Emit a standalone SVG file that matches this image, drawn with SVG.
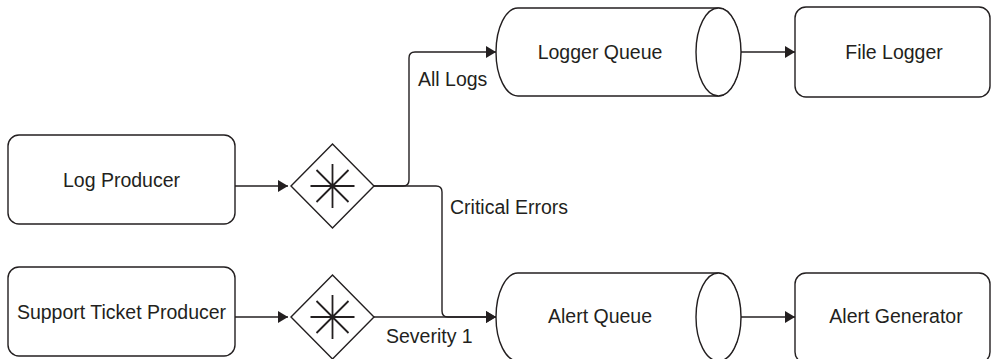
<svg xmlns="http://www.w3.org/2000/svg" width="992" height="359" viewBox="0 0 992 359">
<style>
.box{fill:#fff;stroke:#231f20;stroke-width:1.4}
.ln{fill:none;stroke:#231f20;stroke-width:1.4}
.t{font-family:"Liberation Sans",Arial,sans-serif;font-size:19.5px;fill:#231f20}
.c{text-anchor:middle}
</style>
<defs>
<marker id="arr" markerUnits="userSpaceOnUse" markerWidth="11" markerHeight="12" refX="10" refY="6" orient="auto">
<path d="M0,0 L10,6 L0,12 z" fill="#231f20"/>
</marker>
<g id="star">
<path d="M-22,0 H22 M0,-22 V22 M-16,-16 L16,16 M-16,16 L16,-16" stroke="#231f20" stroke-width="1.8" fill="none"/>
</g>
</defs>
<rect width="992" height="359" fill="#fff"/>
<g id="connectors">
<path class="ln" d="M235,186 H288" marker-end="url(#arr)"/>
<path class="ln" d="M235,317 H288" marker-end="url(#arr)"/>
<path class="ln" d="M374,186 H403 Q409,186 409,180 V58 Q409,52 415,52 H496" marker-end="url(#arr)"/>
<path class="ln" d="M374,186 H436 Q442,186 442,192 V311 Q442,317 448,317 H496" marker-end="url(#arr)"/>
<path class="ln" d="M374,317 H496" marker-end="url(#arr)"/>
<path class="ln" d="M741,52 H795" marker-end="url(#arr)"/>
<path class="ln" d="M741,317 H795" marker-end="url(#arr)"/>
<text class="t" x="418" y="86">All Logs</text>
<text class="t" x="450" y="214">Critical Errors</text>
<text class="t" x="386" y="343">Severity 1</text>
</g>
<g id="log-producer">
<rect class="box" x="8" y="135" width="227" height="89" rx="11"/>
<text class="t c" x="121.5" y="187">Log Producer</text>
</g>
<g id="support-ticket-producer">
<rect class="box" x="8" y="267" width="227" height="89" rx="11"/>
<text class="t c" x="121.5" y="319">Support Ticket Producer</text>
</g>
<g id="filter-1">
<path class="box" d="M291,186 L332.5,144 L374,186 L332.5,228 z"/>
<use href="#star" x="332.5" y="186"/>
</g>
<g id="filter-2">
<path class="box" d="M291,317 L332.5,275 L374,317 L332.5,359 z"/>
<use href="#star" x="332.5" y="317"/>
</g>
<g id="logger-queue">
<path class="box" d="M518,8 H718 A22.5,44 0 0 1 718,96 H518 A22,44 0 0 1 518,8 z"/>
<ellipse class="box" cx="718.5" cy="52" rx="22.5" ry="44"/>
<text class="t c" x="600" y="59">Logger Queue</text>
</g>
<g id="file-logger">
<rect class="box" x="795" y="7" width="195" height="90" rx="11"/>
<text class="t c" x="894" y="59">File Logger</text>
</g>
<g id="alert-queue">
<path class="box" d="M518,273 H718 A22.5,44 0 0 1 718,361 H518 A22,44 0 0 1 518,273 z"/>
<ellipse class="box" cx="718.5" cy="317" rx="22.5" ry="44"/>
<text class="t c" x="600" y="323">Alert Queue</text>
</g>
<g id="alert-generator">
<rect class="box" x="795" y="273" width="195" height="90" rx="11"/>
<text class="t c" x="896" y="323">Alert Generator</text>
</g>
</svg>
